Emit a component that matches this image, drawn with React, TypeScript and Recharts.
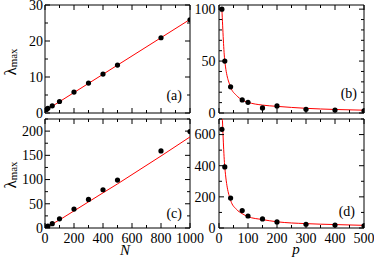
import React from 'react'
import { ComposedChart, Line, Scatter, XAxis, YAxis, ReferenceArea } from 'recharts'

// (a), (c): lambda_max against N
const nValues = [10, 20, 50, 100, 200, 300, 400, 500, 800, 1000]
const lambdaA = [1.0, 1.3, 2.0, 3.2, 5.8, 8.3, 10.8, 13.3, 20.9, 25.9]
const lambdaC = [2, 4, 9, 19, 39, 59, 79, 99, 159, 199]
const fitAN = [0, 1000]
const fitA = [0.6, 26.0]
const fitCN = [0, 100, 200, 400, 500, 800, 1000]
const fitC = [0, 16.7, 35.3, 72.6, 91, 148.6, 188]

// (b), (d): lambda_max against p
const pValues = [10, 20, 40, 80, 100, 150, 200, 300, 400, 500]
const lambdaB = [100, 50, 25.2, 12.6, 10.3, 4.9, 6.8, 3.5, 2.9, 2.0]
const lambdaD = [634, 392, 192, 112, 77, 58, 39, 24, 19, 14]
const fitP = [10, 20, 40, 60, 80, 100, 150, 200, 300, 400, 500]
const fitB = [100, 50, 25, 17, 12.5, 10.3, 7.6, 6.4, 4.5, 3.4, 2.7]
const fitD = [780, 390, 178, 120, 92, 73, 54, 40, 28, 22, 17]

// ticks
const nTicks = [0, 100, 200, 300, 400, 500, 600, 700, 800, 900, 1000]
const pTicks = [0, 50, 100, 150, 200, 250, 300, 350, 400, 450, 500]
const aTicks = [0, 5, 10, 15, 20, 25, 30]
const bTicks = [0, 10, 20, 30, 40, 50, 60, 70, 80, 90, 100]
const cTicks = [0, 25, 50, 75, 100, 125, 150, 175, 200, 225]
const dTicks = [0, 100, 200, 300, 400, 500, 600, 700]

const SERIF = '"Liberation Serif", "DejaVu Serif", "Times New Roman", serif'
const txt = { fontFamily: SERIF }

const toXY = (xs: number[], ys: number[]) => xs.map((x, i) => ({ x, y: ys[i] }))

interface PanelProps {
  left: number
  top: number
  chartW: number
  chartH: number
  axisW: number
  axisH: number
  marginTop: number
  marginRight: number
  xDomain: [number, number]
  yDomain: [number, number]
  xTicks: number[]
  yTicks: number[]
  xMajor: number
  yMajor: number
  xLabels: boolean
  labelGap: number
  points: { x: number; y: number }[]
  fit: { x: number; y: number }[]
  fitType: 'linear' | 'monotone'
}

function Panel(p: PanelProps) {
  const plotW = p.chartW - p.axisW - p.marginRight
  const plotH = p.chartH - p.marginTop - p.axisH

  const xTick = (props: any) => {
    const { x, y, payload } = props
    const v = payload.value
    const major = v % p.xMajor === 0
    const len = major ? 5 : 3
    return (
      <g>
        <line x1={x} y1={y} x2={x} y2={y - len} stroke="#000" />
        <line x1={x} y1={y - plotH} x2={x} y2={y - plotH + len} stroke="#000" />
        {p.xLabels && major && (
          <text x={x} y={y + 14.5} textAnchor="middle" style={txt} fontSize={14} fill="#000">
            {v}
          </text>
        )}
      </g>
    )
  }

  const yTick = (props: any) => {
    const { x, y, payload } = props
    const v = payload.value
    const major = v % p.yMajor === 0
    const len = major ? 5 : 3
    return (
      <g>
        <line x1={x} y1={y} x2={x + len} y2={y} stroke="#000" />
        <line x1={x + plotW} y1={y} x2={x + plotW - len} y2={y} stroke="#000" />
        {major && (
          <text x={x - p.labelGap} y={y + 4.8} textAnchor="end" style={txt} fontSize={14} fill="#000">
            {v}
          </text>
        )}
      </g>
    )
  }

  return (
    <div style={{ position: 'absolute', left: p.left, top: p.top }}>
      <ComposedChart
        width={p.chartW}
        height={p.chartH}
        margin={{ top: p.marginTop, right: p.marginRight, bottom: 0, left: 0 }}
      >
        <XAxis
          type="number"
          dataKey="x"
          domain={p.xDomain}
          ticks={p.xTicks}
          interval={0}
          height={p.axisH}
          tickSize={0}
          tickMargin={0}
          axisLine={false}
          tick={xTick}
          allowDataOverflow
        />
        <YAxis
          type="number"
          dataKey="y"
          domain={p.yDomain}
          ticks={p.yTicks}
          interval={0}
          width={p.axisW}
          tickSize={0}
          tickMargin={0}
          axisLine={false}
          tick={yTick}
          allowDataOverflow
        />
        <ReferenceArea
          x1={p.xDomain[0]}
          x2={p.xDomain[1]}
          y1={p.yDomain[0]}
          y2={p.yDomain[1]}
          fill="none"
          fillOpacity={0}
          stroke="#000"
          strokeWidth={1}
        />
        <Line
          data={p.fit}
          dataKey="y"
          type={p.fitType}
          stroke="#ff0000"
          strokeWidth={1}
          dot={false}
          activeDot={false}
          isAnimationActive={false}
        />
        <Scatter
          data={p.points}
          dataKey="y"
          isAnimationActive={false}
          shape={(s: any) => <circle cx={s.cx} cy={s.cy} r={2.6} fill="#000" />}
        />
      </ComposedChart>
    </div>
  )
}

export default function App() {
  return (
    <div
      style={{
        position: 'fixed', left: 0, top: 0, width: 374, height: 257,
        background: '#fff', overflow: 'hidden', fontFamily: SERIF,
      }}
    >
      <style>{`.recharts-surface { overflow: visible; } svg text { font-family: ${SERIF}; }`}</style>
      <Panel
        left={0} top={0} chartW={195} chartH={118} axisW={45} axisH={5} marginTop={5} marginRight={5}
        xDomain={[0, 1000]} yDomain={[0, 30]} xTicks={nTicks} yTicks={aTicks} xMajor={200} yMajor={10}
        xLabels={false} labelGap={2} points={toXY(nValues, lambdaA)} fit={toXY(fitAN, fitA)} fitType="linear"
      />
      <Panel
        left={0} top={114} chartW={215} chartH={143} axisW={45} axisH={29} marginTop={5} marginRight={25}
        xDomain={[0, 1000]} yDomain={[0, 225]} xTicks={nTicks} yTicks={cTicks} xMajor={200} yMajor={50}
        xLabels={true} labelGap={2} points={toXY(nValues, lambdaC)} fit={toXY(fitCN, fitC)} fitType="linear"
      />
      <Panel
        left={174} top={0} chartW={200} chartH={118} axisW={45} axisH={5} marginTop={5} marginRight={10}
        xDomain={[0, 500]} yDomain={[0, 104]} xTicks={pTicks} yTicks={bTicks} xMajor={100} yMajor={50}
        xLabels={false} labelGap={3.5} points={toXY(pValues, lambdaB)} fit={toXY(fitP, fitB)} fitType="monotone"
      />
      <Panel
        left={174} top={114} chartW={200} chartH={143} axisW={45} axisH={29} marginTop={5} marginRight={10}
        xDomain={[0, 500]} yDomain={[0, 700]} xTicks={pTicks} yTicks={dTicks} xMajor={100} yMajor={200}
        xLabels={true} labelGap={3.5} points={toXY(pValues, lambdaD)} fit={toXY(fitP, fitD)} fitType="monotone"
      />
      <svg width={374} height={257} style={{ position: 'absolute', left: 0, top: 0, pointerEvents: 'none' }}>
        <g style={txt} fill="#000">
          <text transform="translate(15.5, 62) rotate(-90)" textAnchor="middle">
            <tspan fontSize={17}>λ</tspan>
            <tspan fontSize={11} dy={1.5}>max</tspan>
          </text>
          <text transform="translate(15.5, 175) rotate(-90)" textAnchor="middle">
            <tspan fontSize={17}>λ</tspan>
            <tspan fontSize={11} dy={1.5}>max</tspan>
          </text>
          <text x={182} y={100} textAnchor="end" fontSize={14}>(a)</text>
          <text x={357} y={98} textAnchor="end" fontSize={14}>(b)</text>
          <text x={182} y={218} textAnchor="end" fontSize={14}>(c)</text>
          <text x={355} y={216} textAnchor="end" fontSize={14}>(d)</text>
          <text x={125} y={255} textAnchor="middle" fontSize={15} fontStyle="italic">N</text>
          <text x={296} y={254} textAnchor="middle" fontSize={15} fontStyle="italic">p</text>
        </g>
      </svg>
    </div>
  )
}
